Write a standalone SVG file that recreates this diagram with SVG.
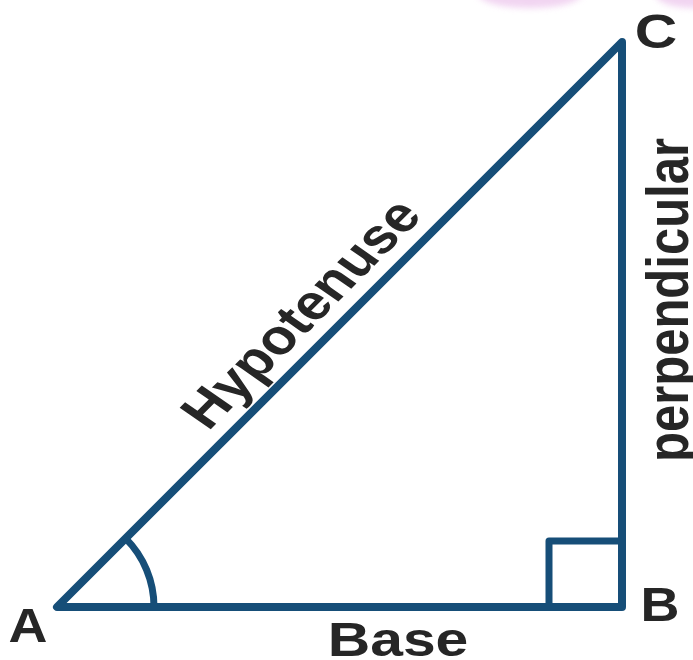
<svg xmlns="http://www.w3.org/2000/svg" width="693" height="660" viewBox="0 0 693 660">
  <defs>
    <filter id="blur" x="-50%" y="-50%" width="200%" height="200%">
      <feGaussianBlur stdDeviation="3"/>
    </filter>
  </defs>
  <style>
    .edge { fill: none; stroke: #164e78; stroke-width: 8; stroke-linejoin: round; stroke-linecap: round; }
    .mark { fill: none; stroke: #164e78; stroke-width: 7; stroke-linejoin: round; }
    .lbl { font-family: "Liberation Sans", Arial, sans-serif; font-weight: bold; font-size: 49px; fill: #262626; }
  </style>
  <rect width="693" height="660" fill="#ffffff"/>
  <g id="watermark" filter="url(#blur)" fill="#efcdef" opacity="0.85">
    <ellipse cx="530" cy="-6" rx="52" ry="14"/>
    <ellipse cx="695" cy="-6" rx="40" ry="14"/>
  </g>
  <g id="triangle">
    <path class="edge" d="M57,607 L622,607 L622,42 Z"/>
  </g>
  <g id="marks">
    <path id="angle-A" class="mark" d="M154,607 A97,97 0 0 0 125.6,538.4"/>
    <path id="right-angle-B" class="mark" d="M549,607 V541 H622"/>
  </g>
  <g id="labels">
    <g id="label-A"><text class="lbl" transform="translate(28,642) scale(1.1,1)" text-anchor="middle">A</text></g>
    <g id="label-B"><text class="lbl" transform="translate(660,621) scale(1.1,1)" text-anchor="middle">B</text></g>
    <g id="label-C"><text class="lbl" transform="translate(656,48) scale(1.2,1)" text-anchor="middle">C</text></g>
    <g id="label-base"><text class="lbl" transform="translate(398,656) scale(1.2,1)" text-anchor="middle">Base</text></g>
    <g id="label-perpendicular"><text class="lbl" transform="translate(688,300) scale(1.2,1) rotate(-90)" text-anchor="middle">perpendicular</text></g>
    <g id="label-hypotenuse"><text class="lbl" transform="translate(316,324) scale(1.2,1) rotate(-50.19)" text-anchor="middle">Hypotenuse</text></g>
  </g>
</svg>
